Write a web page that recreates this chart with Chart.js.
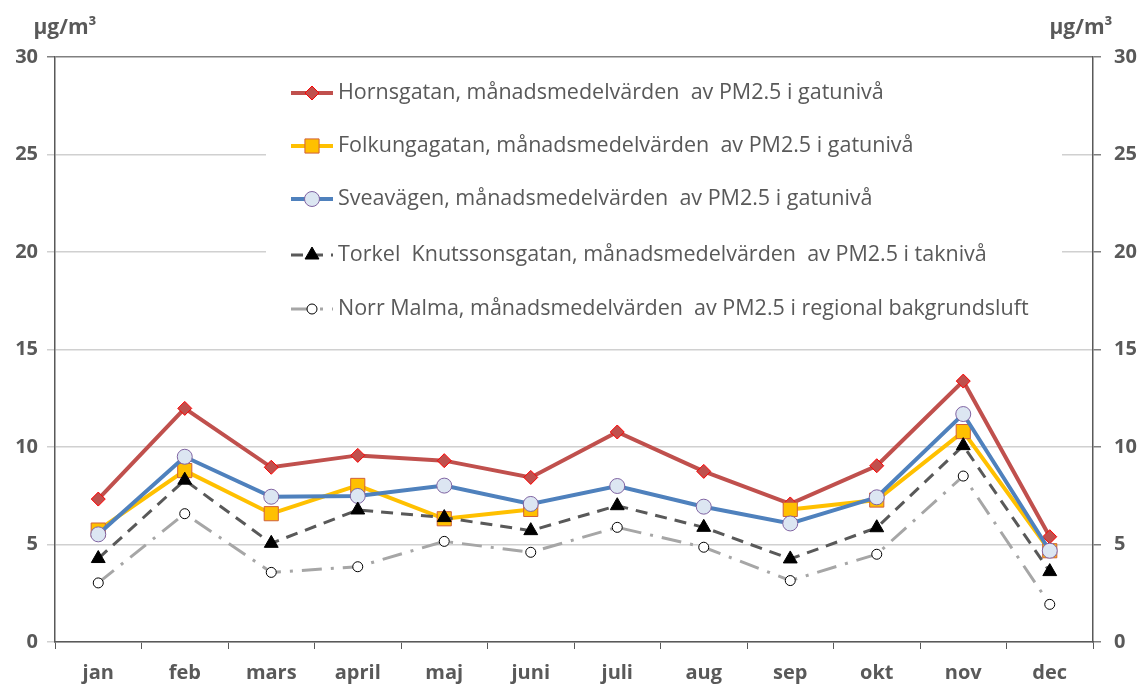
<!DOCTYPE html>
<html>
<head>
<meta charset="utf-8">
<script src="https://cdn.jsdelivr.net/npm/chart.js@4/dist/chart.umd.min.js"></script>
<style>
  html, body { margin: 0; padding: 0; background: #fff; }
  #wrap { width: 1140px; height: 686px; position: relative; }
</style>
</head>
<body>
<div id="wrap"><canvas id="myChart" width="1140" height="686"></canvas></div>
<script>
var months = ['jan', 'feb', 'mars', 'april', 'maj', 'juni', 'juli', 'aug', 'sep', 'okt', 'nov', 'dec'];
var yTicks = [0, 5, 10, 15, 20, 25, 30];
var unit = 'µg/m³';

var hornsgatan = [7.33, 11.98, 8.96, 9.57, 9.30, 8.44, 10.77, 8.75, 7.08, 9.04, 13.38, 5.40];
var folkungagatan = [5.74, 8.79, 6.58, 8.03, 6.32, 6.80, null, null, 6.80, 7.28, 10.79, 4.68];
var sveavagen = [5.52, 9.50, 7.45, 7.49, 8.02, 7.08, 8.00, 6.94, 6.08, 7.42, 11.69, 4.68];
var torkel = [4.28, 8.30, 5.06, 6.77, 6.38, 5.71, 6.99, 5.88, 4.26, 5.86, 10.07, 3.61];
var norrMalma = [3.03, 6.58, 3.57, 3.86, 5.16, 4.60, 5.88, 4.86, 3.15, 4.50, 8.51, 1.93];

var seriesNames = [
    'Hornsgatan, månadsmedelvärden  av PM2.5 i gatunivå',
    'Folkungagatan, månadsmedelvärden  av PM2.5 i gatunivå',
    'Sveavägen, månadsmedelvärden  av PM2.5 i gatunivå',
    'Torkel  Knutssonsgatan, månadsmedelvärden  av PM2.5 i taknivå',
    'Norr Malma, månadsmedelvärden  av PM2.5 i regional bakgrundsluft'
];

var textColor = '#595959';
var fontFamily = '"Open Sans", "Liberation Sans", sans-serif';

// legend drawn inside the plot area, like the original
var insideLegend = {
    id: 'insideLegend',
    afterDatasetsDraw: function(chart) {
        var ctx = chart.ctx;
        ctx.save();
        ctx.fillStyle = '#fff';
        ctx.fillRect(266, 68, 796, 262);
        var rows = [93, 146, 199, 255, 309];
        chart.data.datasets.forEach(function(ds, i) {
            var y = rows[i];
            ctx.save();
            ctx.strokeStyle = ds.borderColor;
            ctx.lineWidth = ds.borderWidth;
            ctx.setLineDash(ds.borderDash || []);
            ctx.beginPath();
            ctx.moveTo(291, y);
            ctx.lineTo(333, y);
            ctx.stroke();
            ctx.setLineDash([]);
            ctx.fillStyle = ds.pointBackgroundColor;
            ctx.strokeStyle = ds.pointBorderColor;
            ctx.lineWidth = ds.pointBorderWidth;
            Chart.helpers.drawPoint(ctx, {
                pointStyle: ds.pointStyle,
                rotation: 0,
                radius: ds.pointRadius,
                borderWidth: ds.pointBorderWidth
            }, 312, y);
            ctx.restore();
            ctx.fillStyle = textColor;
            ctx.font = '21.5px ' + fontFamily;
            ctx.textBaseline = 'middle';
            ctx.textAlign = 'left';
            ctx.fillText(ds.label, 338, y);
        });
        ctx.restore();
    },
    afterDraw: function(chart) {
        var ctx = chart.ctx;
        ctx.save();
        ctx.fillStyle = textColor;
        ctx.font = 'bold 21px ' + fontFamily;
        ctx.textBaseline = 'middle';
        ctx.textAlign = 'center';
        ctx.fillText(unit, 65, 28);
        ctx.fillText(unit, 1081, 28);
        // right axis labels, placed from the y2 scale
        var s = chart.scales.y2;
        ctx.font = 'bold 20px ' + fontFamily;
        ctx.textAlign = 'left';
        s.ticks.forEach(function(t) {
            ctx.fillText(String(t.value), 1114, s.getPixelForValue(t.value));
        });
        ctx.restore();
    }
};

var ctx = document.getElementById('myChart').getContext('2d');
var myChart = new Chart(ctx, {
    type: 'line',
    data: {
        labels: months,
        datasets: [{
            label: seriesNames[0],
            data: hornsgatan,
            borderColor: '#C0504D',
            borderWidth: 4,
            pointStyle: 'rectRot',
            pointRadius: 7,
            pointBackgroundColor: '#C0504D',
            pointBorderColor: '#FF0000',
            pointBorderWidth: 1,
            order: 5
        }, {
            label: seriesNames[1],
            data: folkungagatan,
            borderColor: '#FFC000',
            borderWidth: 4,
            pointStyle: 'rect',
            pointRadius: 10,
            pointBackgroundColor: '#FFC000',
            pointBorderColor: '#D0603A',
            pointBorderWidth: 1,
            order: 4
        }, {
            label: seriesNames[2],
            data: sveavagen,
            borderColor: '#4F81BD',
            borderWidth: 4,
            pointStyle: 'circle',
            pointRadius: 7.5,
            pointBackgroundColor: '#DCE6F2',
            pointBorderColor: '#8064A2',
            pointBorderWidth: 1,
            order: 3
        }, {
            label: seriesNames[3],
            data: torkel,
            borderColor: '#595959',
            borderWidth: 3,
            borderDash: [12, 8],
            pointStyle: 'triangle',
            pointRadius: 8,
            pointBackgroundColor: '#000000',
            pointBorderColor: '#000000',
            pointBorderWidth: 1,
            order: 2
        }, {
            label: seriesNames[4],
            data: norrMalma,
            borderColor: '#A6A6A6',
            borderWidth: 3,
            borderDash: [20, 9, 3, 9],
            pointStyle: 'circle',
            pointRadius: 5,
            pointBackgroundColor: '#FFFFFF',
            pointBorderColor: '#000000',
            pointBorderWidth: 1,
            order: 1
        }]
    },
    options: {
        responsive: false,
        animation: false,
        spanGaps: false,
        layout: { padding: { top: 57 } },
        plugins: {
            legend: { display: false },
            tooltip: { enabled: false },
            title: { display: false }
        },
        scales: {
            x: {
                offset: true,
                afterFit: function(s) { s.height = 44; },
                grid: {
                    offset: true,
                    drawOnChartArea: false,
                    drawTicks: true,
                    tickLength: 7,
                    color: '#595959'
                },
                border: { color: '#595959', width: 1.5 },
                ticks: {
                    color: textColor,
                    padding: 12,
                    font: { family: fontFamily, size: 20, weight: 'bold' }
                }
            },
            y: {
                position: 'left',
                min: 0,
                max: 30,
                afterFit: function(s) { s.width = 55; },
                afterBuildTicks: function(s) { s.ticks = yTicks.map(function(v) { return { value: v }; }); },
                grid: {
                    tickLength: 8,
                    color: function(c) { return c.tick && c.tick.value === 30 ? '#808080' : '#D0D0D0'; },
                    lineWidth: 1.5
                },
                border: { color: '#595959', width: 1.5 },
                ticks: {
                    color: textColor,
                    padding: 9,
                    font: { family: fontFamily, size: 20, weight: 'bold' }
                }
            },
            y2: {
                position: 'right',
                min: 0,
                max: 30,
                afterFit: function(s) { s.width = 47; },
                afterBuildTicks: function(s) { s.ticks = yTicks.map(function(v) { return { value: v }; }); },
                grid: {
                    drawOnChartArea: false,
                    tickLength: 8,
                    color: '#808080',
                    lineWidth: 1.5
                },
                border: { color: '#595959', width: 1.5 },
                ticks: {
                    color: 'rgba(0,0,0,0)',
                    padding: 12,
                    font: { family: fontFamily, size: 20, weight: 'bold' }
                }
            }
        }
    },
    plugins: [insideLegend]
});
</script>
</body>
</html>
